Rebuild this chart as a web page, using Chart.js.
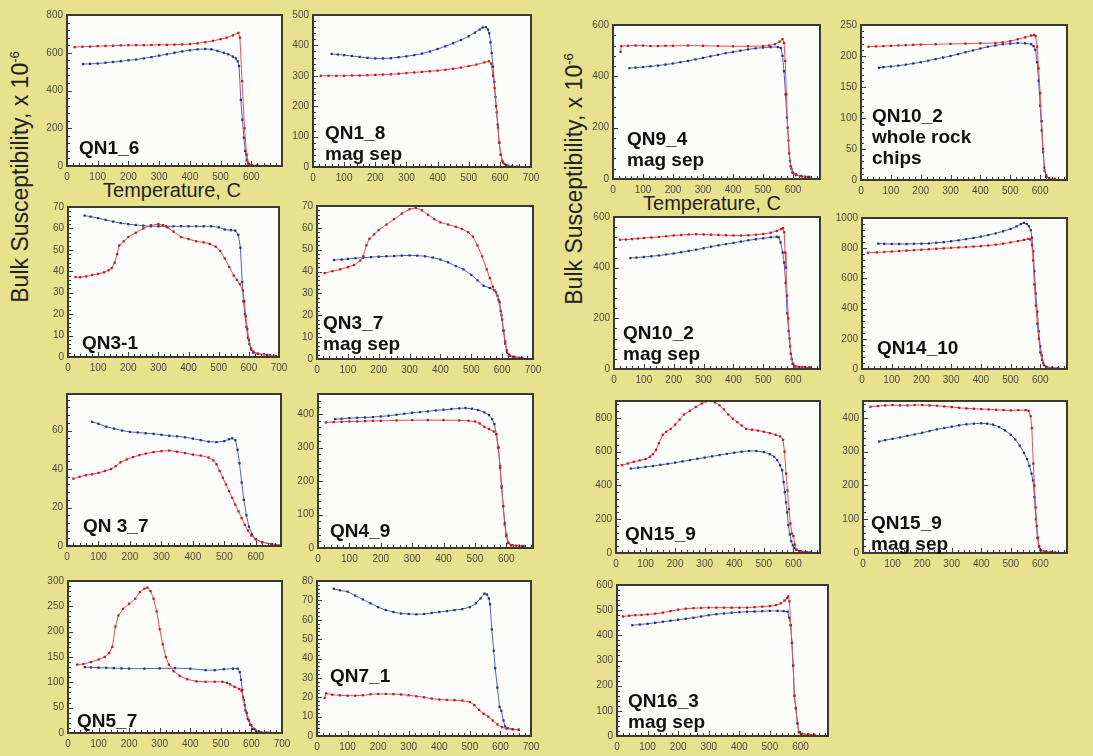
<!DOCTYPE html>
<html>
<head>
<meta charset="utf-8">
<script src="https://cdn.jsdelivr.net/npm/chart.js@4.4.1/dist/chart.umd.min.js"></script>
<style>
  body { margin: 0; background: #e8e28e; width: 1093px; height: 756px; overflow: hidden; position: relative;
         font-family: "Liberation Sans", Arial, sans-serif; }
  canvas.panel { position: absolute; }
  .name { position: absolute; font-weight: bold; font-size: 19px; line-height: 21px; color: #111; white-space: nowrap; }
  .txt { position: absolute; white-space: nowrap; color: #222; }
  .vert { position: absolute; white-space: nowrap; font-size: 23px; color: #222; transform: translate(-50%, -50%) rotate(-90deg); }
  .vert sup { font-size: 13px; }
</style>
</head>
<body>
<div class="vert" style="left:20px; top:177px">Bulk Susceptibility, x 10<sup>-6</sup></div>
<div class="vert" style="left:574px; top:179px">Bulk Susceptibility, x 10<sup>-6</sup></div>
<div class="txt" style="left:172px; top:190px; font-size:20px; transform:translate(-50%,-50%)">Temperature, C</div>
<div class="txt" style="left:712px; top:203px; font-size:20px; transform:translate(-50%,-50%)">Temperature, C</div>
<div class="txt" style="left:350px; top:29px; font-size:18px; color:#2a3a8f">Cooling</div>
<div class="txt" style="left:363px; top:77px; font-size:18px; color:#d43a3a">Heating</div>
<script>
// temperature axis tick labels
const tempTicks = [0, 100, 200, 300, 400, 500, 600, 700];

// temperature (C) / susceptibility pairs
const qn1_6Heat = [[25,630],[50,632],[75,633],[100,635],[125,636],[150,637],[175,639],[200,640],[225,640],[250,640],[275,641],[300,642],[325,642],[350,643],[375,644],[400,646],[425,650],[450,656],[475,663],[500,672],[520,680],[540,692],[558,705],[563,680],[570,450],[578,200],[585,60],[592,12],[600,5],[620,3]];
const qn1_6Cool = [[52,540],[75,541],[100,543],[125,547],[150,551],[175,555],[200,560],[225,564],[250,570],[275,577],[300,585],[325,592],[350,600],[375,607],[400,613],[425,618],[450,620],[470,618],[490,610],[510,600],[525,592],[540,580],[550,570],[556,555],[560,530],[566,350],[571,245],[576,150],[580,80],[585,30],[590,12],[600,5],[620,2],[650,1]];

const qn1_8Heat = [[25,300],[50,300],[75,300],[100,300],[125,301],[150,301],[175,302],[200,303],[225,304],[250,305],[275,307],[300,309],[325,311],[350,313],[375,315],[400,317],[425,320],[450,323],[475,327],[500,332],[525,337],[550,344],[565,348],[572,340],[578,300],[583,260],[588,200],[593,140],[598,80],[603,40],[610,15],[620,6],[640,2]];
const qn1_8Cool = [[60,372],[80,370],[100,368],[125,365],[150,362],[175,359],[200,357],[225,357],[250,358],[275,361],[300,364],[325,368],[350,373],[375,380],[400,388],[425,397],[450,407],[475,418],[500,430],[520,442],[535,452],[545,459],[555,460],[562,452],[566,440],[570,410],[574,375],[578,330],[582,280],[586,230],[590,180],[594,130],[598,80],[603,40],[608,20],[615,10],[625,5],[640,2],[655,1]];

const qn3_1Heat = [[25,37.3],[40,37.2],[60,37.6],[80,38.3],[100,38.8],[120,39.5],[135,40.5],[145,41.5],[155,44],[163,48],[170,52],[185,54],[200,56],[225,58],[250,60],[275,61.5],[300,62],[315,61.5],[330,60.5],[350,58.5],[375,56],[400,55],[425,54],[450,53.5],[470,52.8],[490,51.5],[505,49.5],[520,46],[535,42],[550,38],[560,36],[570,34],[580,31],[585,26],[590,19],[595,13],[600,8],[607,4],[615,2.5],[630,1.5],[660,1],[690,0.4]];
const qn3_1Cool = [[55,66],[75,65.5],[100,64.8],[125,64],[150,63.2],[175,62.5],[200,62],[225,61.6],[250,61.3],[275,61],[300,61],[325,61],[350,61],[375,61],[400,61],[425,61],[450,61],[475,61],[500,60.5],[520,59.5],[540,59.2],[555,59],[565,57],[572,51],[578,35],[582,26],[587,20],[592,14],[597,9],[602,6],[608,3.5],[615,2],[630,1.5],[650,1.2],[670,0.8],[690,0.3]];

const qn3_7SepHeat = [[25,39.3],[50,40.2],[75,41],[100,42],[120,43],[140,45],[150,47],[160,52],[170,55],[185,57],[200,59],[225,61.5],[250,64],[275,66.5],[300,68.5],[320,69.2],[340,68],[360,66],[380,64],[400,62.5],[425,61.5],[450,60.5],[470,59.5],[490,58],[505,56],[520,52],[535,47],[550,41],[560,37],[570,33],[580,30.5],[588,27],[595,22],[600,18],[605,13],[610,8],[615,4],[622,2],[635,1],[655,0.5]];
const qn3_7SepCool = [[55,45.3],[80,45.5],[100,45.8],[125,46.1],[150,46.4],[175,46.6],[200,46.8],[225,47],[250,47.1],[275,47.3],[300,47.4],[325,47.3],[350,47],[375,46.4],[400,45.5],[425,44.2],[450,42.5],[475,41],[500,38.5],[520,36],[540,33.5],[560,32.5],[575,31.5],[585,29],[592,26],[598,20],[604,13],[610,7],[616,3],[625,1.5],[640,1],[665,0.6]];

const qn3_7Heat = [[20,35],[40,36],[60,36.8],[80,37.3],[100,38],[120,39],[140,40],[155,41.5],[170,43.5],[190,45],[210,46.2],[230,47.2],[250,48],[275,48.8],[300,49.3],[325,49.6],[350,49],[375,48.3],[400,47.5],[425,47],[450,46],[465,44.5],[475,42.5],[485,39],[495,35.5],[505,32],[515,28.5],[525,25],[535,21.5],[545,18],[555,14.5],[565,11],[575,8],[585,5.5],[600,3.5],[620,2],[650,1],[690,0.4]];
const qn3_7Cool = [[80,64.5],[100,63.5],[125,62],[150,61],[175,60],[200,59.3],[225,59],[250,58.6],[275,58.3],[300,57.8],[325,57.3],[350,57],[375,56.5],[400,55.8],[425,55],[450,54.2],[475,54],[500,54.5],[515,55.5],[525,56],[535,55],[542,50],[548,43],[555,33],[562,24],[570,16],[578,10],[588,6],[600,3.5],[620,2],[650,1],[690,0.5]];

const qn4_9Heat = [[25,375],[50,376],[75,377],[100,378],[125,378],[150,379],[175,380],[200,380],[250,381],[300,382],[350,382],[400,382],[450,381],[480,380],[500,378],[515,372],[530,362],[545,355],[560,348],[568,340],[575,300],[580,240],[585,180],[590,125],[595,75],[600,40],[605,15],[615,8],[630,7],[650,6]];
const qn4_9Cool = [[55,385],[75,386],[100,388],[125,389],[150,390],[175,391],[200,393],[225,395],[250,398],[275,401],[300,404],[325,406],[350,408],[375,411],[400,413],[425,415],[450,417],[470,418],[490,416],[510,412],[530,405],[545,397],[555,385],[562,370],[568,340],[574,300],[580,245],[585,185],[590,125],[595,70],[600,35],[607,15],[620,8],[640,7],[655,6]];

const qn5_7Heat = [[30,135],[50,136],[75,140],[100,145],[120,150],[135,158],[145,170],[155,210],[165,232],[180,245],[200,255],[220,265],[235,278],[250,285],[260,287],[270,280],[280,265],[290,240],[300,205],[310,175],[320,150],[330,135],[345,122],[365,113],[390,106],[420,102],[450,101],[480,101],[505,101],[520,99],[530,96],[545,91],[560,87],[568,83],[573,70],[578,55],[585,40],[592,25],[600,15],[610,8],[625,3],[650,1]];
const qn5_7Cool = [[55,130],[75,129.5],[100,129],[125,128.5],[150,128],[175,127.5],[200,127],[250,127],[300,127.5],[350,128],[400,127],[450,124],[480,124],[510,126],[540,127],[555,127],[562,120],[566,105],[570,85],[575,65],[580,45],[588,28],[596,16],[605,8],[615,4],[630,1.5],[660,0.5]];

const qn7_1Heat = [[25,19.5],[30,22],[50,21.3],[75,21],[100,20.8],[125,20.8],[150,21],[175,21.5],[200,21.7],[225,21.7],[250,21.6],[275,21.4],[300,21],[325,20.5],[350,20],[375,19.3],[400,18.8],[425,18.6],[450,18.5],[475,18.3],[500,17.5],[515,16],[530,13.5],[545,11.5],[560,10],[575,8],[590,6],[605,4.5],[620,3.8],[640,3.5],[660,3.2]];
const qn7_1Cool = [[55,76],[75,75.2],[100,74.5],[125,72.5],[150,70.5],[175,68.5],[200,66.5],[225,65],[250,64],[275,63.2],[300,63],[325,62.8],[350,63],[375,63.5],[400,64],[425,64.5],[450,65],[475,65.5],[500,66.5],[520,68.5],[535,71],[548,73.5],[556,73],[562,71],[566,68],[572,55],[578,44],[583,35],[590,25],[597,15],[603,13],[610,8],[615,5],[625,4],[640,3.5],[660,3.2]];

const qn9_4SepHeat = [[25,495],[28,518],[50,519],[75,520],[100,520],[125,518],[150,518],[175,519],[200,519],[250,520],[300,519],[350,518],[400,517],[450,517],[500,518],[520,520],[540,525],[555,535],[565,545],[570,530],[574,460],[578,330],[582,200],[587,100],[592,50],[598,25],[610,15],[630,10],[650,8]];
const qn9_4SepCool = [[55,432],[75,434],[100,436],[125,439],[150,442],[175,446],[200,450],[225,455],[250,460],[275,466],[300,472],[325,478],[350,484],[375,490],[400,495],[425,500],[450,505],[475,509],[500,512],[525,514],[550,514],[560,510],[565,480],[570,420],[575,330],[580,240],[585,150],[590,70],[595,40],[600,25],[610,18],[625,12],[640,9],[655,8]];

const qn10_2RockHeat = [[25,215],[50,215.5],[75,216],[100,216.5],[125,217],[150,217.5],[175,218],[200,218.5],[250,219],[300,219.5],[350,220],[400,220.5],[450,221],[475,222],[500,224],[525,227],[550,230],[570,233],[580,234],[585,232],[590,215],[595,180],[600,140],[605,95],[610,50],[614,20],[620,8],[630,3],[650,2]];
const qn10_2RockCool = [[60,181],[75,182],[100,183],[125,184.5],[150,186],[175,188],[200,190],[225,192.5],[250,195],[275,197.5],[300,200],[325,203],[350,206],[375,209],[400,212],[425,215],[450,217],[475,219],[500,220],[525,221],[550,220.5],[570,219],[578,216],[584,210],[590,190],[595,160],[600,120],[605,80],[610,45],[615,15],[620,5],[630,2],[650,1]];

const qn10_2SepHeat = [[20,510],[40,511],[60,513],[80,515],[100,517],[125,519],[150,521],[175,524],[200,527],[225,529],[250,531],[275,532],[300,531],[325,530],[350,529],[375,528],[400,527],[425,527],[450,528],[475,530],[500,533],[525,538],[545,545],[560,552],[566,556],[570,540],[573,460],[576,400],[580,290],[584,200],[588,120],[592,60],[598,20],[605,10],[620,8],[640,7],[655,6]];
const qn10_2SepCool = [[55,438],[75,440],[100,442],[125,445],[150,448],[175,452],[200,456],[225,461],[250,466],[275,471],[300,477],[325,483],[350,488],[375,493],[400,498],[425,503],[450,508],[475,512],[500,516],[525,520],[545,522],[552,520],[558,500],[565,460],[570,420],[575,340],[580,220],[585,150],[590,90],[595,40],[600,20],[610,10],[630,8],[655,6]];

const qn14_10Heat = [[20,770],[50,772],[75,775],[100,778],[125,781],[150,784],[175,787],[200,790],[225,793],[250,796],[275,799],[300,802],[325,805],[350,808],[375,811],[400,814],[425,818],[450,823],[475,830],[500,838],[525,847],[545,855],[560,862],[567,858],[572,820],[576,720],[580,560],[585,420],[590,300],[595,200],[600,110],[606,60],[612,25],[620,10],[640,6],[660,5]];
const qn14_10Cool = [[55,830],[75,829],[100,828],[125,828],[150,828],[175,829],[200,830],[225,832],[250,836],[275,840],[300,846],[325,852],[350,860],[375,868],[400,877],[425,887],[450,898],[475,912],[500,928],[520,945],[535,960],[545,968],[555,960],[562,945],[568,920],[572,870],[576,780],[580,650],[585,500],[590,380],[595,250],[600,150],[605,90],[610,40],[620,15],[640,8],[660,6]];

const qn15_9Heat = [[20,520],[40,530],[60,540],[80,548],[100,556],[115,570],[125,585],[135,610],[145,650],[158,700],[170,718],[185,735],[200,760],[215,790],[230,820],[250,842],[270,865],[290,885],[305,898],[320,900],[335,892],[350,875],[365,850],[380,820],[395,795],[410,775],[425,755],[440,735],[460,730],[480,725],[500,718],[520,710],[540,700],[555,690],[565,670],[570,600],[575,470],[580,370],[585,260],[590,175],[595,115],[600,100],[605,50],[610,20],[620,10],[640,5],[655,3]];
const qn15_9Cool = [[50,500],[75,505],[100,510],[125,515],[150,522],[175,528],[200,535],[225,542],[250,550],[275,558],[300,565],[325,572],[350,580],[375,587],[400,594],[425,600],[450,604],[475,604],[500,598],[520,585],[535,570],[545,550],[555,520],[562,490],[567,420],[571,360],[575,300],[579,240],[583,165],[588,110],[593,70],[598,45],[603,30],[610,18],[625,10],[645,5],[660,3]];

const qn15_9SepHeat = [[25,433],[50,435],[75,437],[100,438],[125,437],[150,437],[175,438],[200,438],[225,437],[250,436],[275,434],[300,432],[325,430],[350,428],[375,427],[400,426],[425,425],[450,424],[475,423],[500,422],[525,423],[550,423],[560,421],[567,405],[571,370],[576,265],[580,200],[584,135],[588,80],[592,45],[596,20],[602,8],[615,4],[635,3],[650,2]];
const qn15_9SepCool = [[55,330],[75,334],[100,338],[125,342],[150,347],[175,351],[200,356],[225,361],[250,366],[275,370],[300,374],[325,378],[350,381],[375,383],[400,384],[420,383],[440,380],[460,373],[480,363],[500,350],[515,336],[530,318],[545,296],[555,278],[563,258],[570,235],[575,215],[580,165],[585,100],[590,45],[595,18],[600,8],[615,4],[640,2]];

const qn16_3SepHeat = [[20,475],[40,478],[60,480],[80,481],[100,483],[125,486],[150,490],[175,496],[200,502],[225,506],[250,508],[275,509],[300,510],[325,510],[350,510],[375,510],[400,510],[425,510],[450,512],[475,514],[500,516],[520,520],[535,527],[548,538],[556,548],[560,555],[564,535],[568,440],[572,370],[576,280],[580,160],[585,110],[590,50],[595,15],[605,8],[625,6],[645,5]];
const qn16_3SepCool = [[50,440],[75,443],[100,446],[125,450],[150,454],[175,458],[200,462],[225,466],[250,470],[275,475],[300,480],[325,484],[350,487],[375,490],[400,492],[425,494],[450,495],[475,496],[500,497],[525,497],[545,496],[558,494],[563,470],[568,440],[572,370],[576,280],[580,160],[585,110],[590,50],[595,15],[605,8],[625,6],[645,5]];

// panel layout: frame box in page pixels, axis ranges, sample label
const panels = [
  { L: 67,  T: 13,  R: 282,  B: 166, xMax: 700, xLab: 600, yMax: 800,  yStep: 200, heat: qn1_6Heat,      cool: qn1_6Cool,      name: ['QN1_6'],                        nx: 79,  ny: 147 },
  { L: 313, T: 13,  R: 531,  B: 167, xMax: 700, xLab: 700, yMax: 500,  yStep: 100, heat: qn1_8Heat,      cool: qn1_8Cool,      name: ['QN1_8', 'mag sep'],             nx: 325, ny: 132 },
  { L: 68,  T: 205, R: 279,  B: 357, xMax: 700, xLab: 700, yMax: 70,   yStep: 10,  heat: qn3_1Heat,      cool: qn3_1Cool,      name: ['QN3-1'],                        nx: 82,  ny: 342 },
  { L: 317, T: 204, R: 533,  B: 359, xMax: 700, xLab: 700, yMax: 70,   yStep: 10,  heat: qn3_7SepHeat,   cool: qn3_7SepCool,   name: ['QN3_7', 'mag sep'],             nx: 323, ny: 322 },
  { L: 67,  T: 392, R: 281,  B: 546, xMax: 680, xLab: 600, yMax: 79,   yStep: 20,  heat: qn3_7Heat,      cool: qn3_7Cool,      name: ['QN 3_7'],                       nx: 83,  ny: 525 },
  { L: 318, T: 392, R: 533,  B: 548, xMax: 685, xLab: 600, yMax: 460,  yStep: 100, heat: qn4_9Heat,      cool: qn4_9Cool,      name: ['QN4_9'],                        nx: 330, ny: 530 },
  { L: 68,  T: 579, R: 282,  B: 733, xMax: 700, xLab: 700, yMax: 300,  yStep: 50,  heat: qn5_7Heat,      cool: qn5_7Cool,      name: ['QN5_7'],                        nx: 77,  ny: 720 },
  { L: 317, T: 579, R: 531,  B: 736, xMax: 700, xLab: 700, yMax: 80,   yStep: 10,  heat: qn7_1Heat,      cool: qn7_1Cool,      name: ['QN7_1'],                        nx: 330, ny: 675 },
  { L: 613, T: 23,  R: 820,  B: 179, xMax: 690, xLab: 600, yMax: 600,  yStep: 200, heat: qn9_4SepHeat,   cool: qn9_4SepCool,   name: ['QN9_4', 'mag sep'],             nx: 627, ny: 138 },
  { L: 861, T: 23,  R: 1067, B: 180, xMax: 690, xLab: 600, yMax: 250,  yStep: 50,  heat: qn10_2RockHeat, cool: qn10_2RockCool, name: ['QN10_2', 'whole rock', 'chips'], nx: 872, ny: 115 },
  { L: 614, T: 215, R: 820,  B: 369, xMax: 690, xLab: 600, yMax: 600,  yStep: 200, heat: qn10_2SepHeat,  cool: qn10_2SepCool,  name: ['QN10_2', 'mag sep'],            nx: 623, ny: 332 },
  { L: 862, T: 216, R: 1067, B: 369, xMax: 690, xLab: 600, yMax: 1000, yStep: 200, heat: qn14_10Heat,    cool: qn14_10Cool,    name: ['QN14_10'],                      nx: 877, ny: 347 },
  { L: 616, T: 399, R: 820,  B: 553, xMax: 690, xLab: 600, yMax: 900,  yStep: 200, heat: qn15_9Heat,     cool: qn15_9Cool,     name: ['QN15_9'],                       nx: 625, ny: 533 },
  { L: 863, T: 399, R: 1067, B: 553, xMax: 690, xLab: 600, yMax: 450,  yStep: 100, heat: qn15_9SepHeat,  cool: qn15_9SepCool,  name: ['QN15_9', 'mag sep'],            nx: 871, ny: 522 },
  { L: 617, T: 583, R: 828,  B: 736, xMax: 690, xLab: 600, yMax: 600,  yStep: 100, heat: qn16_3SepHeat,  cool: qn16_3SepCool,  name: ['QN16_3', 'mag sep'],            nx: 628, ny: 700 },
];

const YW = 34, XH = 22, PT = 8, PR = 14;
Chart.defaults.font.family = '"Liberation Sans", Arial, sans-serif';

function makePanel(p) {
  const cv = document.createElement('canvas');
  cv.className = 'panel';
  const w = (p.R - p.L) + YW + PR, h = (p.B - p.T) + PT + XH;
  cv.width = w; cv.height = h;
  cv.style.left = (p.L - YW) + 'px';
  cv.style.top = (p.T - PT) + 'px';
  cv.style.width = w + 'px'; cv.style.height = h + 'px';
  document.body.appendChild(cv);

  // white plot box, dark frame and small inward ticks
  const frame = {
    id: 'frame',
    beforeDraw(chart) {
      const a = chart.chartArea, c = chart.ctx;
      c.save();
      c.fillStyle = '#fcfcfa';
      c.fillRect(a.left, a.top, a.right - a.left, a.bottom - a.top);
      c.restore();
    },
    afterDraw(chart) {
      const a = chart.chartArea, c = chart.ctx, sx = chart.scales.x, sy = chart.scales.y;
      c.save();
      c.strokeStyle = '#3a3a30';
      c.lineWidth = 1;
      c.beginPath();
      for (let v = 0; v <= p.xMax; v += 20) {
        const px = Math.round(sx.getPixelForValue(v)) + 0.5;
        const len = v % 100 === 0 ? 5 : 3;
        c.moveTo(px, a.bottom); c.lineTo(px, a.bottom - len);
      }
      const ym = p.yStep / 5;
      for (let i = 0; i * ym <= p.yMax + 1e-9; i++) {
        const py = Math.round(sy.getPixelForValue(i * ym)) + 0.5;
        const len = i % 5 === 0 ? 5 : 3;
        c.moveTo(a.left, py); c.lineTo(a.left + len, py);
      }
      c.stroke();
      c.lineWidth = 2;
      c.strokeRect(a.left, a.top, a.right - a.left, a.bottom - a.top);
      c.restore();
    }
  };

  new Chart(cv.getContext('2d'), {
    type: 'line',
    data: {
      datasets: [
        { label: 'Heating', data: p.heat, borderColor: '#e05555', borderWidth: 1,
          pointRadius: 1.6, pointStyle: 'rect', pointBackgroundColor: '#c4161c', pointBorderWidth: 0 },
        { label: 'Cooling', data: p.cool, borderColor: '#5565b5', borderWidth: 1,
          pointRadius: 1.6, pointStyle: 'rect', pointBackgroundColor: '#22337f', pointBorderWidth: 0 }
      ]
    },
    options: {
      responsive: false,
      animation: false,
      devicePixelRatio: 1,
      layout: { padding: { top: PT, right: PR, left: 0, bottom: 0 } },
      plugins: { legend: { display: false }, tooltip: { enabled: false } },
      elements: { line: { tension: 0 } },
      scales: {
        x: {
          type: 'linear', min: 0, max: p.xMax,
          afterFit: s => { s.height = XH; },
          afterBuildTicks: s => { s.ticks = tempTicks.filter(v => v <= p.xLab).map(v => ({ value: v })); },
          grid: { display: false, drawTicks: false },
          border: { display: false },
          ticks: { autoSkip: false, maxRotation: 0, padding: 5,
                   color: '#4a4a44', font: { size: 10 }, callback: v => String(v) }
        },
        y: {
          type: 'linear', min: 0, max: p.yMax,
          afterFit: s => { s.width = YW; },
          grid: { display: false, drawTicks: false },
          border: { display: false },
          ticks: { stepSize: p.yStep, includeBounds: false, autoSkip: false, padding: 4,
                   color: '#4a4a44', font: { size: 10 }, callback: v => String(v) }
        }
      }
    },
    plugins: [frame]
  });

  const lab = document.createElement('div');
  lab.className = 'name';
  lab.style.left = p.nx + 'px';
  lab.style.top = (p.ny - 10.5) + 'px';
  lab.innerHTML = p.name.join('<br>');
  document.body.appendChild(lab);
}

panels.forEach(makePanel);
</script>
</body>
</html>
